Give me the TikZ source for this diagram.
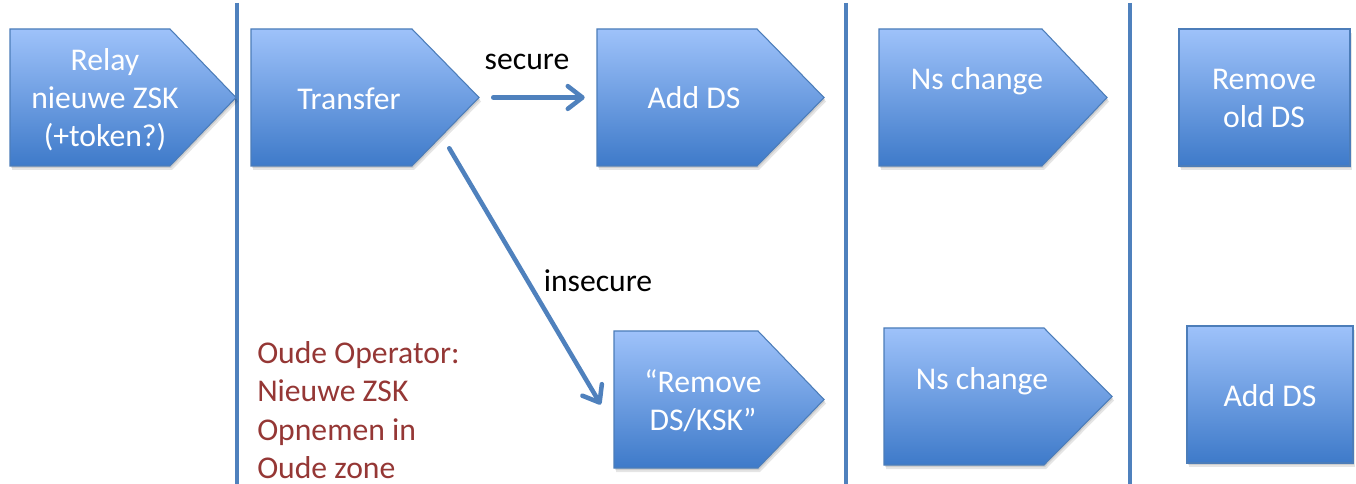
\documentclass[tikz,border=0pt]{standalone}
\usepackage{fontspec}
\setmainfont{Carlito}
\usetikzlibrary{arrows.meta,fit,calc}
\definecolor{topc}{RGB}{158,194,250}
\definecolor{botc}{RGB}{62,122,201}
\definecolor{edgec}{RGB}{76,125,185}
\definecolor{linec}{RGB}{79,129,189}
\definecolor{redt}{RGB}{149,55,53}
\tikzset{
  boxfill/.style={top color=topc, bottom color=botc, draw=edgec, line width=0.8pt, line join=miter},
  shadowA/.style={fill=black, opacity=0.10},
  holder/.style={inner sep=0pt, draw=none},
  boxtext/.style={text=white, align=center, font=\fontsize{23.75}{28.5}\selectfont, inner sep=0pt},
  plain/.style={text=black, font=\fontsize{23.75}{28.5}\selectfont, inner sep=0pt},
  redtext/.style={text=redt, align=left, font=\fontsize{23.75}{28.8}\selectfont, inner sep=0pt, anchor=west},
  sep/.style={draw=linec, line width=3.4pt},
  flow/.style={draw=linec, line width=3.4pt, line cap=round, -{Straight Barb[length=11pt,width=17pt,line cap=round,line join=round]}},
}
% name, left, top, tip, bottom, slant start
\newcommand\pentbox[6]{%
  \path[shadowA] ({#2+2},{#3+4}) -- ({#6+2},{#3+4}) -- ({#4+2},{(#3+#5)/2+4}) -- ({#6+2},{#5+4}) -- ({#2+2},{#5+4}) -- cycle;
  \path[shadowA] ({#2+1},{#3+2}) -- ({#6+1},{#3+2}) -- ({#4+1},{(#3+#5)/2+2}) -- ({#6+1},{#5+2}) -- ({#2+1},{#5+2}) -- cycle;
  \path[boxfill] (#2,#3) -- (#6,#3) -- (#4,{(#3+#5)/2}) -- (#6,#5) -- (#2,#5) -- cycle;
  \node[holder, fit={(#2,#3) (#4,#5)}] (#1) {};
}
% name, left, top, right, bottom
\newcommand\rectbox[5]{%
  \path[shadowA] ({#2+2},{#3+4}) rectangle ({#4+2},{#5+4});
  \path[shadowA] ({#2+1},{#3+2}) rectangle ({#4+1},{#5+2});
  \path[boxfill] (#2,#3) rectangle (#4,#5);
  \node[holder, fit={(#2,#3) (#4,#5)}] (#1) {};
}
\begin{document}
\begin{tikzpicture}[x=0.75pt, y=-0.75pt]
\useasboundingbox (0,0) rectangle (1356,484);
\fill[white] (0,0) rectangle (1356,484);

% separators
\coordinate (s1t) at (237,3);   \coordinate (s1b) at (237,484);
\coordinate (s2t) at (846,3);   \coordinate (s2b) at (846,484);
\coordinate (s3t) at (1130,3);  \coordinate (s3b) at (1130,484);
\draw[sep] (s1t) -- (s1b);
\draw[sep] (s2t) -- (s2b);
\draw[sep] (s3t) -- (s3b);

% top row
\pentbox{relay}{10}{29}{236}{166}{170}
\pentbox{transfer}{251}{29}{479}{166}{412}
\pentbox{adds}{597}{29}{824}{166}{757}
\pentbox{nstop}{879}{29}{1107}{166}{1042}
\rectbox{remold}{1179}{29}{1350}{166}

% bottom row
\pentbox{rmds}{614}{331}{824}{468}{758}
\pentbox{nsbot}{884}{328}{1112}{465}{1044}
\rectbox{addbot}{1187}{326}{1353}{463}

% box texts
\node[boxtext] (relayT) at (105,100) {Relay\\nieuwe ZSK\\(+token?)};
\node[boxtext] (transferT) at (349,99) {Transfer};
\node[boxtext] (addsT) at (694,98) {Add DS};
\node[boxtext] (nstopT) at (977,81) {Ns change};
\node[boxtext] (remoldT) at (1264,98) {Remove\\old DS};
\node[boxtext] (rmdsT) at (703,401) {“Remove\\DS/KSK”};
\node[boxtext] (nsbotT) at (982,381) {Ns change};
\node[boxtext] (addbotT) at (1270,396) {Add DS};

% labels
\node[plain] (secureL) at (527,62) {secure};
\node[plain] (insecureL) at (598,281) {insecure};
\node[redtext] (oude) at (257,410) {Oude Operator:\\Nieuwe ZSK\\Opnemen in\\Oude zone};

% connectors
\draw[flow] ($(transfer.east)+(14,0)$) -- ($(adds.west)+(-12,0)$);
\draw[flow] ($(transfer.south east)+(-30,-18)$) -- ($(rmds.west)+(-13,5)$);
\end{tikzpicture}
\end{document}
